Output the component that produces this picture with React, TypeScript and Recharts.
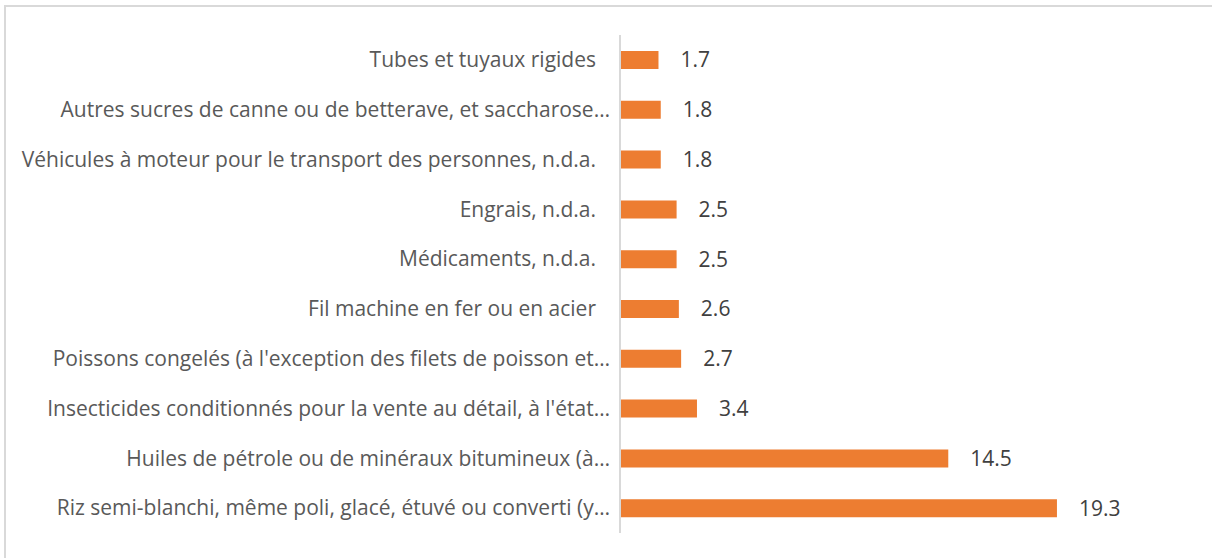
import { BarChart, Bar, XAxis, YAxis, LabelList } from 'recharts'

const categories = [
  'Tubes et tuyaux rigides',
  'Autres sucres de canne ou de betterave, et saccharose…',
  'Véhicules à moteur pour le transport des personnes, n.d.a.',
  'Engrais, n.d.a.',
  'Médicaments, n.d.a.',
  'Fil machine en fer ou en acier',
  "Poissons congelés (à l'exception des filets de poisson et…",
  "Insecticides conditionnés pour la vente au détail, à l'état…",
  'Huiles de pétrole ou de minéraux bitumineux (à…',
  'Riz semi-blanchi, même poli, glacé, étuvé ou converti (y…',
]
const values = [1.7, 1.8, 1.8, 2.5, 2.5, 2.6, 2.7, 3.4, 14.5, 19.3]

const data = categories.map((name, i) => ({ name, value: values[i] }))

const FONT = '"Open Sans", sans-serif'
const FONT_SIZE = 21

const CategoryTick = ({ x, y, payload }: any) => {
  const label: string = payload.value
  // excel leaves more room after labels that are not cut
  const gap = label.endsWith('…') ? 8 : 22
  return (
    <text
      x={x - gap}
      y={y}
      dy="0.35em"
      textAnchor="end"
      fill="#595959"
      fontFamily={FONT}
      fontSize={FONT_SIZE}
    >
      {label}
    </text>
  )
}

export default function App() {
  return (
    <div style={{ position: 'absolute', left: 0, top: 0, width: 1212, height: 558, background: '#fff', overflow: 'hidden' }}>
      <div
        style={{
          position: 'absolute', left: 4, top: 5, width: 1220, height: 570,
          border: '2px solid #d9d9d9', boxSizing: 'border-box',
        }}
      />
      <div style={{ position: 'absolute', left: 0, top: 0 }}>
        <BarChart
          width={1212}
          height={558}
          data={data}
          layout="vertical"
          margin={{ top: 35, right: 26, bottom: 25, left: 0 }}
          barSize={18}
        >
          <XAxis type="number" domain={[0, 25]} hide />
          <YAxis
            type="category"
            dataKey="name"
            width={620}
            tick={<CategoryTick />}
            tickLine={false}
            tickSize={0}
            axisLine={{ stroke: '#d9d9d9', strokeWidth: 2 }}
            interval={0}
          />
          <Bar dataKey="value" fill="#ed7d31" isAnimationActive={false}>
            <LabelList
              dataKey="value"
              position="right"
              offset={22}
              fill="#404040"
              fontFamily={FONT}
              fontSize={FONT_SIZE}
              formatter={(v: number) => v.toFixed(1)}
            />
          </Bar>
        </BarChart>
      </div>
    </div>
  )
}
